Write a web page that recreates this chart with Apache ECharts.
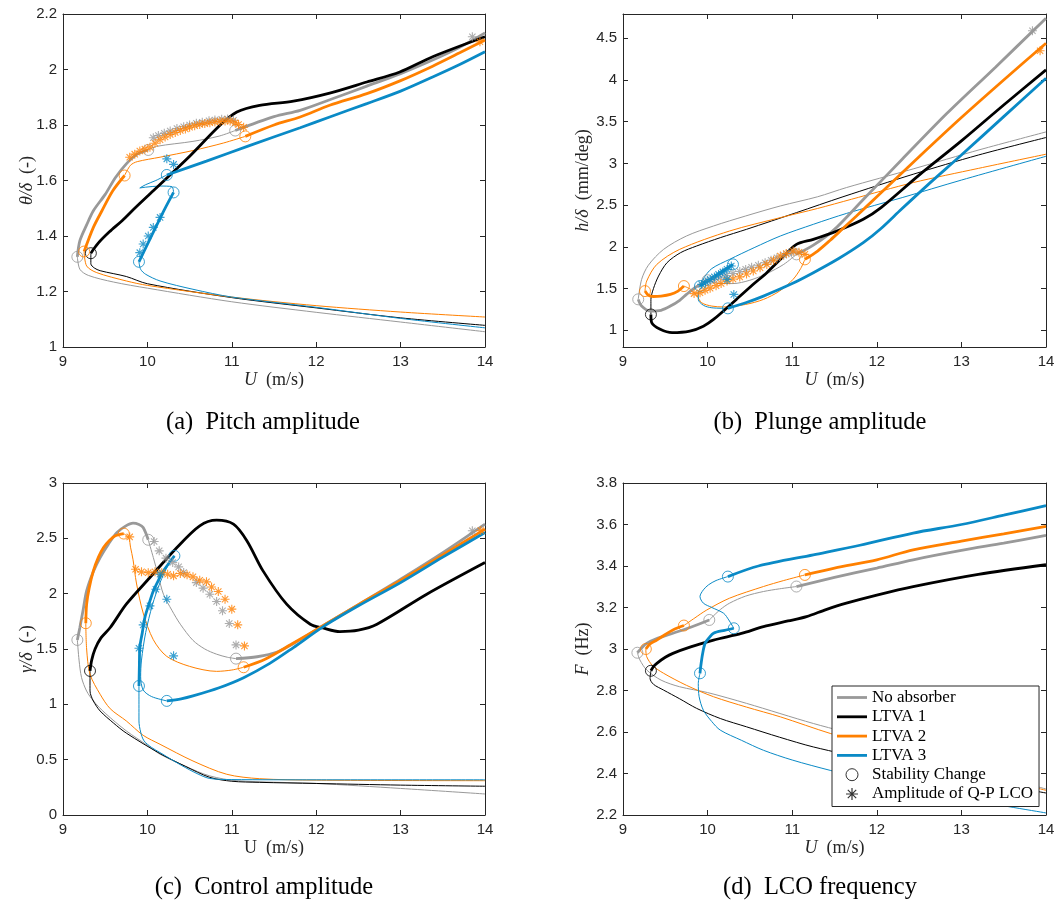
<!DOCTYPE html>
<html>
<head>
<meta charset="utf-8">
<script src="https://cdn.jsdelivr.net/npm/echarts@6/dist/echarts.min.js"></script>
<style>
html, body { margin: 0; background: #fff; }
#main { width: 1059px; height: 909px; }
</style>
</head>
<body>
<div id="main"></div>
<script>
// tick labels
var xTicks = [9, 10, 11, 12, 13, 14];
var pitchTicks = [1, 1.2, 1.4, 1.6, 1.8, 2, 2.2];
var plungeTicks = [1, 1.5, 2, 2.5, 3, 3.5, 4, 4.5];
var controlTicks = [0, 0.5, 1, 1.5, 2, 2.5, 3];
var freqTicks = [2.2, 2.4, 2.6, 2.8, 3, 3.2, 3.4, 3.6, 3.8];
var legendNames = ['No absorber', 'LTVA 1', 'LTVA 2', 'LTVA 3', 'Stability Change', 'Amplitude of Q-P LCO'];

// ---- (a) pitch amplitude ----
var aGrayLow = [[9.17,1.325],[9.2,1.28],[9.3,1.258],[9.6,1.234],[10,1.212],[11,1.163],[12,1.125],[13,1.09],[14,1.055]];
var aGrayUp = [[9.17,1.325],[9.2,1.383],[9.28,1.44],[9.36,1.491],[9.5,1.55],[9.62,1.61],[9.75,1.66],[9.88,1.695],[10.01,1.71]];
var aGrayMid = [[10.01,1.71],[10.11,1.723],[10.54,1.741],[10.85,1.76],[11.04,1.78]];
var aGrayHigh = [[11.04,1.78],[11.5,1.83],[11.81,1.853],[12.16,1.891],[12.6,1.94],[13,1.985],[13.38,2.034],[13.7,2.08],[14,2.132]];
var aGrayRings = [[9.17,1.325],[10.01,1.71],[11.04,1.78]];
var aGrayStars = [[10.07,1.754],[10.13,1.762],[10.2,1.77],[10.27,1.778],[10.35,1.787],[10.43,1.794],[10.5,1.8],[10.58,1.806],[10.65,1.81],[10.73,1.815],[10.8,1.818],[10.88,1.821],[10.95,1.822],[11.02,1.817],[13.85,2.118]];
var aBlackLow = [[9.33,1.338],[9.33,1.3],[9.37,1.285],[9.44,1.275],[9.75,1.254],[10,1.228],[11,1.178],[12,1.141],[13,1.105],[14,1.078]];
var aBlackUp = [[9.33,1.338],[9.42,1.375],[9.55,1.415],[9.7,1.455],[9.85,1.5],[10.07,1.563],[10.47,1.678],[10.86,1.799],[11.06,1.847],[11.33,1.871],[11.73,1.886],[12.16,1.915],[12.6,1.955],[12.99,1.991],[13.38,2.046],[14,2.118]];
var aBlackRings = [[9.33,1.338]];
var aOrangeLow = [[9.25,1.344],[9.28,1.292],[9.4,1.268],[9.75,1.238],[10,1.222],[11,1.18],[12,1.149],[13,1.126],[14,1.108]];
var aOrangeUp = [[9.25,1.344],[9.36,1.431],[9.46,1.49],[9.59,1.563],[9.73,1.618]];
var aOrangeMid = [[9.73,1.618],[9.8,1.655],[9.88,1.668],[10.15,1.684],[10.54,1.708],[10.9,1.735],[11.16,1.759]];
var aOrangeHigh = [[11.16,1.759],[11.5,1.8],[11.81,1.829],[12.16,1.871],[12.6,1.913],[13,1.96],[13.38,2.012],[13.7,2.06],[14,2.106]];
var aOrangeRings = [[9.25,1.344],[9.73,1.618],[11.16,1.759]];
var aOrangeStars = [[9.79,1.684],[9.85,1.695],[9.91,1.706],[9.97,1.713],[10.03,1.72],[10.09,1.734],[10.15,1.747],[10.21,1.757],[10.27,1.766],[10.33,1.773],[10.39,1.78],[10.45,1.786],[10.5,1.792],[10.56,1.797],[10.62,1.802],[10.68,1.805],[10.74,1.808],[10.8,1.811],[10.86,1.813],[10.92,1.814],[10.98,1.814],[11.04,1.808],[11.08,1.802],[11.14,1.792],[13.94,2.1]];
var aBlueLow = [[9.9,1.307],[9.92,1.28],[9.98,1.262],[10.15,1.238],[10.54,1.208],[11,1.18],[12,1.143],[13,1.103],[14,1.069]];
var aBlueUp = [[9.9,1.307],[10,1.37],[10.1,1.432],[10.2,1.494],[10.31,1.557]];
var aBlueZig = [[10.31,1.557],[10.29,1.578],[10.15,1.58],[9.98,1.576],[9.91,1.573],[9.98,1.585],[10.1,1.6],[10.23,1.62]];
var aBlueHigh = [[10.23,1.62],[10.7,1.67],[11.2,1.725],[11.81,1.79],[12.16,1.829],[12.6,1.877],[13,1.922],[13.38,1.973],[13.7,2.018],[14,2.064]];
var aBlueRings = [[9.9,1.307],[10.31,1.557],[10.23,1.62]];
var aBlueStars = [[9.91,1.34],[9.95,1.371],[10.01,1.4],[10.07,1.431],[10.15,1.467],[10.23,1.678],[10.31,1.658]];

// ---- (b) plunge amplitude ----
var bGrayUpper = [[9.18,1.371],[9.22,1.61],[9.3,1.78],[9.48,1.97],[9.75,2.13],[10.07,2.25],[10.45,2.37],[10.86,2.49],[11.3,2.6],[11.64,2.71],[12.43,2.934],[13.22,3.165],[14,3.377]];
var bGrayStable1 = [[9.18,1.371],[9.22,1.29],[9.32,1.231],[9.45,1.24],[9.56,1.29],[9.67,1.36],[9.75,1.43],[9.85,1.51],[10,1.6]];
var bGrayMid = [[10,1.6],[10.15,1.56],[10.3,1.56],[10.5,1.6],[10.7,1.68],[10.9,1.79],[11.05,1.91]];
var bGrayStable2 = [[11.05,1.91],[11.25,2.02],[11.49,2.2],[11.84,2.567],[12.3,3.05],[12.83,3.6],[13.4,4.15],[14,4.74]];
var bGrayRings = [[9.18,1.371],[10,1.6],[11.05,1.91]];
var bGrayStars = [[10,1.59],[10.08,1.61],[10.15,1.63],[10.22,1.655],[10.3,1.68],[10.38,1.705],[10.45,1.73],[10.52,1.755],[10.6,1.78],[10.68,1.81],[10.75,1.84],[10.82,1.87],[10.9,1.9],[10.96,1.925],[11.02,1.94],[13.84,4.59]];
var bBlackThin = [[9.33,1.19],[9.33,1.37],[9.36,1.5],[9.42,1.65],[9.52,1.81],[9.68,1.93],[9.87,2.01],[10.15,2.11],[10.46,2.21],[11.05,2.41],[11.6,2.6],[12.43,2.87],[13.2,3.1],[14,3.31]];
var bBlackThick = [[9.33,1.19],[9.34,1.09],[9.44,1.012],[9.58,0.972],[9.79,0.99],[9.95,1.05],[10.07,1.13],[10.34,1.37],[10.55,1.56],[10.7,1.69],[10.9,1.89],[11.05,2.03],[11.25,2.09],[11.53,2.19],[11.84,2.33],[12.05,2.47],[12.5,2.86],[13,3.27],[13.5,3.7],[14,4.12]];
var bBlackRings = [[9.33,1.19]];
var bOrangeUpper = [[9.26,1.47],[9.28,1.59],[9.4,1.79],[9.67,1.97],[10.26,2.19],[10.86,2.35],[11.3,2.46],[11.7,2.57],[12.43,2.77],[13.2,2.94],[14,3.11]];
var bOrangeStable1 = [[9.26,1.47],[9.3,1.42],[9.36,1.405],[9.45,1.41],[9.56,1.43],[9.65,1.47],[9.72,1.53]];
var bOrangeMid = [[9.72,1.53],[9.8,1.49],[9.87,1.42],[9.93,1.33],[10.05,1.29],[10.19,1.28],[10.45,1.31],[10.66,1.37],[10.85,1.47],[11.01,1.61],[11.1,1.74],[11.15,1.85]];
var bOrangeStable2 = [[11.15,1.85],[11.3,1.95],[11.45,2.08],[11.6,2.22],[11.76,2.37],[12,2.6],[12.5,3.08],[13,3.55],[13.5,4],[14,4.44]];
var bOrangeRings = [[9.26,1.47],[9.72,1.53],[11.15,1.85]];
var bOrangeStars = [[9.84,1.44],[9.91,1.451],[9.97,1.48],[10.03,1.505],[10.1,1.535],[10.16,1.56],[10.23,1.59],[10.3,1.615],[10.38,1.64],[10.46,1.675],[10.54,1.71],[10.62,1.75],[10.7,1.79],[10.78,1.84],[10.86,1.89],[10.93,1.92],[11.01,1.95],[11.08,1.935],[11.15,1.91],[13.93,4.35]];
var bBlueUpper = [[9.91,1.53],[9.95,1.62],[10.05,1.74],[10.26,1.85],[10.55,1.99],[10.86,2.13],[11.25,2.27],[11.64,2.4],[12.3,2.59],[13,2.8],[14,3.085]];
var bBlueThick1 = [[9.91,1.53],[10,1.59],[10.1,1.65],[10.2,1.72],[10.3,1.79]];
var bBlueZig = [[10.3,1.79],[10.2,1.74],[10.08,1.66],[9.97,1.56],[9.89,1.45],[9.89,1.37],[9.95,1.3],[10.05,1.27],[10.24,1.263]];
var bBlueThick2 = [[10.24,1.263],[10.45,1.33],[10.66,1.41],[11,1.56],[11.25,1.69],[11.55,1.86],[11.84,2.05],[12.05,2.22],[12.29,2.45],[12.6,2.74],[13,3.1],[13.5,3.56],[14,4.02]];
var bBlueRings = [[9.91,1.53],[10.3,1.79],[10.24,1.263]];
var bBlueStars = [[9.93,1.55],[9.98,1.58],[10.03,1.61],[10.08,1.64],[10.13,1.67],[10.18,1.7],[10.23,1.73],[10.28,1.77],[10.23,1.61],[10.31,1.43]];

// ---- (c) control amplitude ----
var cGrayLow = [[9.17,1.582],[9.19,1.4],[9.22,1.241],[9.28,1.12],[9.36,1.031],[9.5,0.92],[9.75,0.76],[10,0.63],[10.15,0.549],[10.45,0.44],[10.74,0.353],[11.06,0.31],[12,0.285],[13,0.24],[14,0.19]];
var cGrayUp = [[9.17,1.582],[9.2,1.694],[9.24,1.86],[9.28,2.025],[9.36,2.2],[9.44,2.327],[9.54,2.45],[9.64,2.552],[9.74,2.61],[9.83,2.637],[9.9,2.625],[9.95,2.598],[10.01,2.487]];
var cGrayMid = [[10.01,2.487],[10.07,2.327],[10.13,2.16],[10.19,1.995],[10.29,1.85],[10.39,1.724],[10.54,1.578],[10.68,1.5],[10.82,1.453],[10.95,1.425],[11.05,1.413]];
var cGrayHigh = [[11.05,1.413],[11.3,1.43],[11.53,1.47],[11.8,1.58],[12.08,1.71],[12.5,1.9],[13,2.13],[13.5,2.37],[14,2.628]];
var cGrayRings = [[9.17,1.582],[10.01,2.487],[11.05,1.413]];
var cGrayStars = [[10.08,2.471],[10.14,2.387],[10.22,2.321],[10.3,2.281],[10.37,2.242],[10.43,2.191],[10.58,2.1],[10.66,2.05],[10.74,1.995],[10.82,1.929],[10.89,1.845],[10.97,1.73],[11.05,1.537],[13.85,2.568]];
var cBlackThin = [[9.32,1.302],[9.32,1.121],[9.36,1.03],[9.44,0.94],[9.6,0.83],[9.75,0.74],[10.15,0.555],[10.45,0.44],[10.74,0.34],[11,0.305],[11.33,0.295],[12,0.285],[13,0.27],[14,0.26]];
var cBlackThick = [[9.32,1.302],[9.34,1.4],[9.38,1.5],[9.45,1.6],[9.56,1.694],[9.75,1.905],[10.03,2.146],[10.35,2.417],[10.62,2.613],[10.82,2.664],[11.02,2.628],[11.18,2.477],[11.37,2.206],[11.65,1.905],[11.93,1.724],[12.08,1.69],[12.28,1.657],[12.5,1.67],[12.72,1.724],[13.31,1.995],[14,2.281]];
var cBlackRings = [[9.32,1.302]];
var cOrangeLow = [[9.27,1.733],[9.28,1.5],[9.32,1.272],[9.44,1.091],[9.56,0.96],[9.75,0.85],[9.95,0.72],[10.15,0.639],[10.54,0.488],[10.94,0.368],[11.33,0.328],[12,0.315],[14,0.31]];
var cOrangeUp = [[9.27,1.733],[9.28,1.905],[9.31,2.05],[9.36,2.206],[9.42,2.33],[9.48,2.417],[9.55,2.48],[9.62,2.523],[9.72,2.543]];
var cOrangeMid = [[9.72,2.543],[9.78,2.5],[9.8,2.42],[9.83,2.306],[9.87,2.096],[9.95,1.825],[10.07,1.584],[10.23,1.433],[10.5,1.343],[10.82,1.298],[11,1.31],[11.14,1.335]];
var cOrangeHigh = [[11.14,1.335],[11.4,1.41],[11.7,1.54],[12.08,1.71],[12.5,1.9],[13,2.12],[13.5,2.35],[14,2.583]];
var cOrangeRings = [[9.27,1.733],[9.72,2.543],[11.14,1.335]];
var cOrangeStars = [[9.79,2.513],[9.86,2.22],[9.93,2.197],[10.01,2.19],[10.09,2.197],[10.17,2.19],[10.24,2.175],[10.31,2.161],[10.39,2.182],[10.47,2.17],[10.54,2.152],[10.62,2.122],[10.7,2.107],[10.76,2.06],[10.84,2.019],[10.92,1.95],[11,1.86],[11.07,1.718],[11.15,1.528],[13.95,2.57]];
var cBlueLow = [[9.9,1.166],[9.9,1],[9.9,0.85],[9.92,0.75],[9.96,0.67],[10.05,0.61],[10.15,0.564],[10.4,0.45],[10.6,0.37],[10.74,0.33],[11,0.32],[12,0.318],[14,0.318]];
var cBlueThick1 = [[9.9,1.166],[9.905,1.35],[9.91,1.513],[9.94,1.65],[9.97,1.784],[10.02,1.91],[10.07,2.025],[10.13,2.12],[10.19,2.206],[10.26,2.28],[10.32,2.342]];
var cBlueZig = [[10.32,2.342],[10.24,2.25],[10.15,2.1],[10.06,1.9],[9.98,1.65],[9.93,1.4],[9.92,1.25],[9.95,1.13],[10.05,1.07],[10.23,1.031]];
var cBlueThick2 = [[10.23,1.031],[10.4,1.05],[10.54,1.076],[10.85,1.15],[11.14,1.241],[11.45,1.37],[11.73,1.513],[12.08,1.7],[12.5,1.89],[13,2.1],[13.5,2.33],[14,2.553]];
var cBlueRings = [[9.9,1.166],[10.32,2.342],[10.23,1.031]];
var cBlueStars = [[9.9,1.507],[9.95,1.718],[10.03,1.89],[10.1,2.04],[10.15,2.176],[10.23,1.95],[10.31,1.438]];

// ---- (d) LCO frequency ----
var dGrayLow = [[9.17,2.982],[9.2,2.947],[9.28,2.899],[9.45,2.85],[9.67,2.818],[10,2.79],[10.46,2.738],[11.25,2.641],[12,2.56],[13,2.44],[14,2.325]];
var dGrayStable1 = [[9.17,2.982],[9.22,3.005],[9.28,3.027],[9.4,3.05],[9.59,3.076],[9.8,3.105],[10.02,3.14]];
var dGrayMid = [[10.02,3.14],[10.15,3.19],[10.26,3.221],[10.45,3.255],[10.66,3.277],[10.85,3.29],[11.05,3.301]];
var dGrayHigh = [[11.05,3.301],[11.5,3.345],[12,3.39],[12.43,3.43],[13,3.475],[13.5,3.51],[14,3.547]];
var dGrayRings = [[9.17,2.982],[10.02,3.14],[11.05,3.301]];
var dBlackThin = [[9.33,2.895],[9.32,2.858],[9.36,2.83],[9.48,2.802],[9.67,2.76],[9.87,2.714],[10.15,2.665],[10.46,2.625],[10.85,2.575],[11.25,2.528],[12,2.46],[13,2.38],[14,2.306]];
var dBlackThick = [[9.33,2.895],[9.36,2.915],[9.4,2.931],[9.5,2.96],[9.59,2.979],[9.8,3.01],[10.07,3.043],[10.4,3.075],[10.66,3.108],[10.95,3.135],[11.17,3.156],[11.4,3.19],[11.64,3.221],[12,3.26],[12.43,3.301],[13.2,3.36],[14,3.406]];
var dBlackRings = [[9.33,2.895]];
var dOrangeLow = [[9.27,3],[9.28,2.963],[9.35,2.92],[9.48,2.883],[9.75,2.825],[10.07,2.77],[10.46,2.72],[10.86,2.673],[11.45,2.593],[12,2.53],[13,2.42],[14,2.319]];
var dOrangeStable1 = [[9.27,3],[9.32,3.025],[9.4,3.043],[9.5,3.07],[9.59,3.092],[9.72,3.113]];
var dOrangeMid = [[9.72,3.113],[9.85,3.15],[9.99,3.188],[10.26,3.245],[10.66,3.301],[10.9,3.33],[11.15,3.357]];
var dOrangeHigh = [[11.15,3.357],[11.5,3.39],[12,3.43],[12.43,3.478],[13,3.52],[13.5,3.555],[14,3.591]];
var dOrangeRings = [[9.27,3],[9.72,3.113],[11.15,3.357]];
var dBlueLow = [[9.91,2.883],[9.89,2.834],[9.9,2.77],[9.95,2.705],[10.05,2.65],[10.15,2.609],[10.4,2.56],[10.66,2.512],[11,2.465],[11.45,2.415],[12,2.36],[13,2.28],[14,2.21]];
var dBlueStable1 = [[9.91,2.883],[9.92,2.92],[9.94,2.975],[9.97,3.027],[10.02,3.055],[10.07,3.076],[10.2,3.09],[10.31,3.1]];
var dBlueMid = [[10.31,3.1],[10.25,3.14],[10.19,3.172],[10.05,3.2],[9.95,3.221],[9.91,3.253],[9.95,3.285],[10.01,3.309],[10.1,3.33],[10.24,3.349]];
var dBlueHigh = [[10.24,3.349],[10.6,3.4],[11.25,3.454],[11.8,3.5],[12.43,3.559],[13,3.6],[13.5,3.645],[14,3.691]];
var dBlueRings = [[9.91,2.883],[10.31,3.1],[10.24,3.349]];

var GRAY = '#999999', BLACK = '#000000', ORANGE = '#ff8000', BLUE = '#0a8ac6', AX = '#262626';
var STAR = 'path://M5,0L5,10M0,5L10,5M1.5,1.5L8.5,8.5M1.5,8.5L8.5,1.5';
var LINE_ICON = 'path://M0,0L30,0L30,2.8L0,2.8Z';

var series = [];
function curve(p, data, color, thick, name) {
    series.push({
        type: 'line', name: name, xAxisIndex: 2 * p, yAxisIndex: 2 * p,
        data: data, smooth: 0.3, symbol: 'none', silent: true,
        lineStyle: { color: color, width: thick ? 2.8 : 1 },
        itemStyle: { color: color },
        z: thick ? 3 : 2
    });
}
function rings(p, data, color) {
    series.push({
        type: 'scatter', xAxisIndex: 2 * p, yAxisIndex: 2 * p, data: data,
        symbol: 'circle', symbolSize: 11, silent: true,
        itemStyle: { color: 'rgba(0,0,0,0)', borderColor: color, borderWidth: 1 },
        z: 5
    });
}
function stars(p, data, color) {
    series.push({
        type: 'scatter', xAxisIndex: 2 * p, yAxisIndex: 2 * p, data: data,
        symbol: STAR, symbolSize: 9, silent: true,
        itemStyle: { color: 'rgba(0,0,0,0)', borderColor: color, borderWidth: 1.1 },
        z: 5
    });
}

// (a)
curve(0, aGrayLow, GRAY, false); curve(0, aGrayMid, GRAY, false);
curve(0, aBlackLow, BLACK, false);
curve(0, aOrangeLow, ORANGE, false); curve(0, aOrangeMid, ORANGE, false);
curve(0, aBlueLow, BLUE, false); curve(0, aBlueZig, BLUE, false);
curve(0, aGrayUp, GRAY, true); curve(0, aGrayHigh, GRAY, true);
curve(0, aBlackUp, BLACK, true);
curve(0, aOrangeUp, ORANGE, true); curve(0, aOrangeHigh, ORANGE, true);
curve(0, aBlueUp, BLUE, true); curve(0, aBlueHigh, BLUE, true);
rings(0, aGrayRings, GRAY); rings(0, aBlackRings, BLACK); rings(0, aOrangeRings, ORANGE); rings(0, aBlueRings, BLUE);
stars(0, aGrayStars, GRAY); stars(0, aOrangeStars, ORANGE); stars(0, aBlueStars, BLUE);

// (b)
curve(1, bGrayUpper, GRAY, false); curve(1, bGrayMid, GRAY, false);
curve(1, bBlackThin, BLACK, false);
curve(1, bOrangeUpper, ORANGE, false); curve(1, bOrangeMid, ORANGE, false);
curve(1, bBlueUpper, BLUE, false); curve(1, bBlueZig, BLUE, false);
curve(1, bGrayStable1, GRAY, true); curve(1, bGrayStable2, GRAY, true);
curve(1, bBlackThick, BLACK, true);
curve(1, bOrangeStable1, ORANGE, true); curve(1, bOrangeStable2, ORANGE, true);
curve(1, bBlueThick1, BLUE, true); curve(1, bBlueThick2, BLUE, true);
rings(1, bGrayRings, GRAY); rings(1, bBlackRings, BLACK); rings(1, bOrangeRings, ORANGE); rings(1, bBlueRings, BLUE);
stars(1, bGrayStars, GRAY); stars(1, bOrangeStars, ORANGE); stars(1, bBlueStars, BLUE);

// (c)
curve(2, cGrayLow, GRAY, false); curve(2, cGrayMid, GRAY, false);
curve(2, cBlackThin, BLACK, false);
curve(2, cOrangeLow, ORANGE, false); curve(2, cOrangeMid, ORANGE, false);
curve(2, cBlueLow, BLUE, false); curve(2, cBlueZig, BLUE, false);
curve(2, cGrayUp, GRAY, true); curve(2, cGrayHigh, GRAY, true);
curve(2, cBlackThick, BLACK, true);
curve(2, cOrangeUp, ORANGE, true); curve(2, cOrangeHigh, ORANGE, true);
curve(2, cBlueThick1, BLUE, true); curve(2, cBlueThick2, BLUE, true);
rings(2, cGrayRings, GRAY); rings(2, cBlackRings, BLACK); rings(2, cOrangeRings, ORANGE); rings(2, cBlueRings, BLUE);
stars(2, cGrayStars, GRAY); stars(2, cOrangeStars, ORANGE); stars(2, cBlueStars, BLUE);

// (d) - the thick upper branches carry the legend names
curve(3, dGrayLow, GRAY, false); curve(3, dGrayMid, GRAY, false);
curve(3, dBlackThin, BLACK, false);
curve(3, dOrangeLow, ORANGE, false); curve(3, dOrangeMid, ORANGE, false);
curve(3, dBlueLow, BLUE, false); curve(3, dBlueMid, BLUE, false);
curve(3, dGrayHigh, GRAY, true, legendNames[0]); curve(3, dGrayStable1, GRAY, true);
curve(3, dBlackThick, BLACK, true, legendNames[1]);
curve(3, dOrangeHigh, ORANGE, true, legendNames[2]); curve(3, dOrangeStable1, ORANGE, true);
curve(3, dBlueHigh, BLUE, true, legendNames[3]); curve(3, dBlueStable1, BLUE, true);
rings(3, dGrayRings, GRAY); rings(3, dBlackRings, BLACK); rings(3, dOrangeRings, ORANGE); rings(3, dBlueRings, BLUE);
// marker-only entries for the legend
series.push({ type: 'scatter', name: legendNames[4], xAxisIndex: 6, yAxisIndex: 6, data: [],
    symbol: 'circle', itemStyle: { color: 'rgba(0,0,0,0)', borderColor: '#000', borderWidth: 1 } });
series.push({ type: 'scatter', name: legendNames[5], xAxisIndex: 6, yAxisIndex: 6, data: [],
    symbol: STAR, itemStyle: { color: 'rgba(0,0,0,0)', borderColor: '#000', borderWidth: 1.2 } });

var grids = [
    { left: 63, top: 14, width: 422, height: 333 },
    { left: 623, top: 14, width: 423, height: 333 },
    { left: 63, top: 483, width: 422, height: 332 },
    { left: 623, top: 483, width: 423, height: 332 }
];

var serif = 'Liberation Serif';
function nameStyle() {
    return {
        fontFamily: serif, fontSize: 18, color: AX,
        rich: { i: { fontFamily: serif, fontSize: 18, fontStyle: 'italic', color: AX } }
    };
}

var xAxes = [], yAxes = [];
function addAxes(g, ymin, ymax, yTicks, xName, yName, yGap) {
    var base = {
        type: 'value', gridIndex: g, splitLine: { show: false },
        axisLine: { show: true, onZero: false, lineStyle: { color: AX, width: 1 } }
    };
    xAxes.push(Object.assign({}, base, {
        position: 'bottom', min: 9, max: 14,
        axisTick: { inside: true, length: 5, customValues: xTicks, lineStyle: { color: AX } },
        axisLabel: { customValues: xTicks, color: AX, fontFamily: 'Liberation Sans', fontSize: 15, margin: 7 },
        name: xName, nameLocation: 'middle', nameGap: 24, nameMoveOverlap: false, nameTextStyle: nameStyle()
    }));
    xAxes.push(Object.assign({}, base, {
        position: 'top', min: 9, max: 14,
        axisTick: { inside: true, length: 5, customValues: xTicks, lineStyle: { color: AX } },
        axisLabel: { show: false }
    }));
    yAxes.push(Object.assign({}, base, {
        position: 'left', min: ymin, max: ymax,
        axisTick: { inside: true, length: 5, customValues: yTicks, lineStyle: { color: AX } },
        axisLabel: { customValues: yTicks, color: AX, fontFamily: 'Liberation Sans', fontSize: 15, margin: 6 },
        name: yName, nameLocation: 'middle', nameGap: yGap, nameMoveOverlap: false, nameTextStyle: nameStyle()
    }));
    yAxes.push(Object.assign({}, base, {
        position: 'right', min: ymin, max: ymax,
        axisTick: { inside: true, length: 5, customValues: yTicks, lineStyle: { color: AX } },
        axisLabel: { show: false }
    }));
}
addAxes(0, 1, 2.2, pitchTicks, '{i|U}  (m/s)', '{i|θ/δ}  (-)', 27);
addAxes(1, 0.8, 4.79, plungeTicks, '{i|U}  (m/s)', '{i|h/δ}  (mm/deg)', 31);
addAxes(2, 0, 3, controlTicks, 'U  (m/s)', '{i|γ/δ}  (-)', 27);
addAxes(3, 2.2, 3.8, freqTicks, '{i|U}  (m/s)', '{i|F}  (Hz)', 31);

function caption(x, y, text) {
    return { type: 'text', x: x, y: y, silent: true,
        style: { text: text, fontFamily: serif, fontSize: 24.5, fill: '#000', align: 'center', verticalAlign: 'middle' } };
}

var lineItem = function (name) {
    return { name: name, icon: LINE_ICON, itemStyle: { borderWidth: 0 } };
};

var myChart = echarts.init(document.getElementById('main'));
myChart.setOption({
    animation: false,
    backgroundColor: '#fff',
    grid: grids,
    xAxis: xAxes,
    yAxis: yAxes,
    legend: {
        data: [
            lineItem(legendNames[0]), lineItem(legendNames[1]), lineItem(legendNames[2]), lineItem(legendNames[3]),
            { name: legendNames[4], icon: 'circle', itemStyle: { color: 'rgba(0,0,0,0)', borderColor: '#000', borderWidth: 1 } },
            { name: legendNames[5], icon: STAR, itemStyle: { color: 'rgba(0,0,0,0)', borderColor: '#000', borderWidth: 1.2 } }
        ],
        orient: 'vertical', left: 832, top: 686,
        itemWidth: 30, itemHeight: 12, itemGap: 2.3,
        padding: [3, 6, 4, 5],
        backgroundColor: '#fff', borderColor: AX, borderWidth: 1,
        textStyle: { fontFamily: serif, fontSize: 17, color: '#000' },
        selectedMode: false, z: 20
    },
    graphic: [
        caption(263, 423, '(a)  Pitch amplitude'),
        caption(820, 423, '(b)  Plunge amplitude'),
        caption(264, 888, '(c)  Control amplitude'),
        caption(820, 888, '(d)  LCO frequency')
    ],
    series: series
});
</script>
</body>
</html>
